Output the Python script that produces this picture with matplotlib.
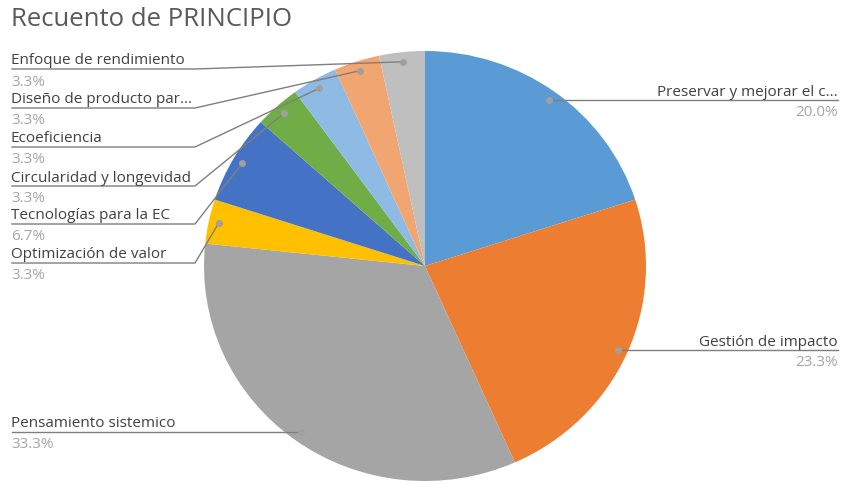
import matplotlib
matplotlib.use("Agg")
import matplotlib.pyplot as plt
import numpy as np

# data
categorias = ["Preservar y mejorar el c...", "Gestión de impacto", "Pensamiento sistemico",
              "Optimización de valor", "Tecnologías para la EC", "Circularidad y longevidad",
              "Ecoeficiencia", "Diseño de producto par...", "Enfoque de rendimiento"]
conteos = [6, 7, 10, 1, 2, 1, 1, 1, 1]
colores = ["#5B9BD5", "#ED7D31", "#A5A5A5", "#FFC000", "#4472C4", "#70AD47",
           "#8FBAE3", "#F1A672", "#BFBFBF"]

plt.rcParams['font.family'] = ['Open Sans', 'DejaVu Sans']

W, H = 841, 485
fig = plt.figure(figsize=(W / 100, H / 100), dpi=100)

# pie placement (pixels, image coords) - slightly wider than tall like the original
cx, cy, rx, ry = 425, 267, 221, 215
ax = fig.add_axes([(cx - rx) / W, (H - cy - ry) / H, 2 * rx / W, 2 * ry / H])
wedges, _ = ax.pie(conteos, colors=colores, startangle=90, counterclock=False,
                   radius=1, wedgeprops=dict(linewidth=0))
ax.set_aspect("auto")
ax.set_xlim(-1, 1)
ax.set_ylim(-1, 1)
ax.axis("off")

fig.text(11 / W, 1 - 19 / H, "Recuento de PRINCIPIO", fontsize=18.5, color="#595959",
         ha="left", va="center")

inv = ax.transData.inverted()


def px2data(x, y):
    return inv.transform((x, H - y))


total = sum(conteos)
# label layout: (side, text center y in px)
layout = {
    0: ("R", 90), 1: ("R", 340), 2: ("L", 422), 3: ("L", 253), 4: ("L", 214),
    5: ("L", 176), 6: ("L", 137), 7: ("L", 98), 8: ("L", 59),
}
line_c = "#7F7F7F"
fs = 11
for i, w in enumerate(wedges):
    ang = np.deg2rad((w.theta1 + w.theta2) / 2)
    dx, dy = 0.955 * np.cos(ang), 0.955 * np.sin(ang)
    side, ty = layout[i]
    pct = "%.1f%%" % (100 * conteos[i] / total)
    dot_px = ax.transData.transform((dx, dy))
    dot_y = H - dot_px[1]
    if side == "R":
        x1, _ = px2data(838, 0)
        ax.plot([dx, x1], [dy, dy], color=line_c, lw=1, clip_on=False)
        fig.text(838 / W, 1 - (ty + 2) / H, categorias[i], fontsize=fs, color="#404040",
                 ha="right", va="center")
        fig.text(838 / W, 1 - (ty + 23) / H, pct, fontsize=fs, color="#A6A6A6",
                 ha="right", va="center")
    else:
        uy = ty + 11
        if i == 2:
            pts = [px2data(12, dot_y)]
        else:
            pts = [px2data(12, uy), px2data(195, uy)]
        xs = [p[0] for p in pts] + [dx]
        ys = [p[1] for p in pts] + [dy]
        ax.plot(xs, ys, color=line_c, lw=1, clip_on=False)
        fig.text(11 / W, 1 - (ty + 2) / H, categorias[i], fontsize=fs, color="#404040",
                 ha="left", va="center")
        fig.text(11 / W, 1 - (ty + 23) / H, pct, fontsize=fs, color="#A6A6A6",
                 ha="left", va="center")
    ax.plot(dx, dy, "o", color="#A0A0A0", ms=4, clip_on=False, zorder=5)

fig.savefig("out.png", dpi=100)
